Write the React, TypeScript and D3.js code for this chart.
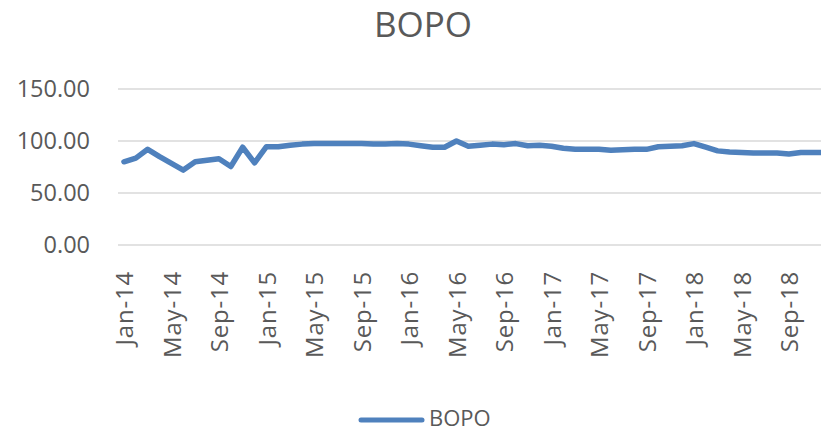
import React, { useEffect, useRef } from 'react'
import { select, scaleBand, scaleLinear, line } from 'd3'

const WIDTH = 821
const HEIGHT = 432

const MONTH_NAMES = ['Jan', 'Feb', 'Mar', 'Apr', 'May', 'Jun', 'Jul', 'Aug', 'Sep', 'Oct', 'Nov', 'Dec']
const YEARS = ['14', '15', '16', '17', '18']
const months: string[] = YEARS.flatMap((yr) => MONTH_NAMES.map((m) => `${m}-${yr}`))

// BOPO values, Jan-14 .. Dec-18
const bopo2014 = [80, 83.5, 92, 85, 78.5, 72, 80, 81.5, 83, 75.5, 94, 79]
const bopo2015 = [94.5, 94.5, 96, 97, 97.5, 97.5, 97.5, 97.5, 97.5, 97, 97, 97.5]
const bopo2016 = [97, 95.5, 94, 94, 100, 95, 96, 97, 96.5, 97.5, 95.5, 96]
const bopo2017 = [95, 93, 92, 92, 92, 91, 91.5, 92, 92, 94.5, 95, 95.5]
const bopo2018 = [97.5, 94, 90.5, 89.5, 89, 88.5, 88.5, 88.5, 87.5, 89, 89, 89]
const bopo = [...bopo2014, ...bopo2015, ...bopo2016, ...bopo2017, ...bopo2018]

const yTicks = [0, 50, 100, 150]
const tickEvery = 4

const LINE_COLOR = '#4f81bd'
const TEXT_COLOR = '#595959'
const GRID_COLOR = '#d9d9d9'
const FONT = '"Open Sans", "DejaVu Sans", sans-serif'

export default function App(): JSX.Element {
  const svgRef = useRef<SVGSVGElement | null>(null)

  useEffect(() => {
    const svg = select(svgRef.current)
    svg.selectAll('*').remove()

    const left = 118
    const step = 11.875
    const x = scaleBand<string>()
      .domain(months)
      .range([left, left + step * months.length])
      .padding(0)
    const y = scaleLinear().domain([0, 150]).range([245, 89])
    const cx = (m: string) => (x(m) as number) + x.bandwidth() / 2

    // title
    svg
      .append('text')
      .attr('x', 423)
      .attr('y', 37)
      .attr('text-anchor', 'middle')
      .attr('font-family', FONT)
      .attr('font-size', 35)
      .attr('fill', TEXT_COLOR)
      .text('BOPO')

    // gridlines
    svg
      .append('g')
      .selectAll('line')
      .data(yTicks)
      .join('line')
      .attr('x1', left)
      .attr('x2', WIDTH)
      .attr('y1', (d) => y(d))
      .attr('y2', (d) => y(d))
      .attr('stroke', GRID_COLOR)
      .attr('stroke-width', 1.3)

    // y labels
    svg
      .append('g')
      .selectAll('text')
      .data(yTicks)
      .join('text')
      .attr('x', 90)
      .attr('y', (d) => y(d))
      .attr('dy', '0.35em')
      .attr('text-anchor', 'end')
      .attr('font-family', FONT)
      .attr('font-size', 23.5)
      .attr('fill', TEXT_COLOR)
      .text((d) => d.toFixed(2))

    // x labels, rotated
    svg
      .append('g')
      .selectAll('text')
      .data(months.filter((_m, i) => i % tickEvery === 0))
      .join('text')
      .attr('transform', (d) => `translate(${cx(d) + 1},${271}) rotate(-90)`)
      .attr('dy', '0.35em')
      .attr('text-anchor', 'end')
      .attr('font-family', FONT)
      .attr('font-size', 24)
      .attr('letter-spacing', 0.8)
      .attr('fill', TEXT_COLOR)
      .text((d) => d)

    // series line
    const lineFn = line<number>()
      .x((_d, i) => cx(months[i]))
      .y((d) => y(d))

    svg
      .append('path')
      .datum(bopo)
      .attr('fill', 'none')
      .attr('stroke', LINE_COLOR)
      .attr('stroke-width', 5.5)
      .attr('stroke-linejoin', 'round')
      .attr('stroke-linecap', 'round')
      .attr('d', lineFn)

    // legend
    const lg = svg.append('g')
    lg.append('line')
      .attr('x1', 361)
      .attr('x2', 422)
      .attr('y1', 420)
      .attr('y2', 420)
      .attr('stroke', LINE_COLOR)
      .attr('stroke-width', 5)
      .attr('stroke-linecap', 'round')
    lg.append('text')
      .attr('x', 429)
      .attr('y', 426)
      .attr('font-family', FONT)
      .attr('font-size', 22)
      .attr('fill', TEXT_COLOR)
      .text('BOPO')
  }, [])

  return (
    <svg
      ref={svgRef}
      width={WIDTH}
      height={HEIGHT}
      style={{ position: 'absolute', left: 0, top: 0, background: '#ffffff' }}
      xmlns="http://www.w3.org/2000/svg"
    />
  )
}
